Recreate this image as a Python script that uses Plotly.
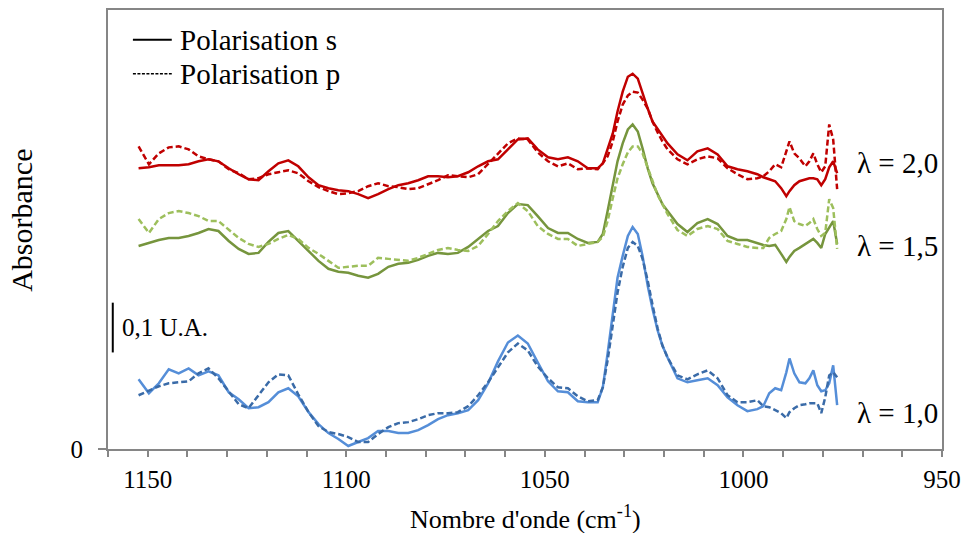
import plotly.graph_objects as go

wavenumber = [1152.3, 1149.7, 1147.2, 1144.7, 1142.2, 1139.7, 1137.2, 1134.7, 1132.2, 1129.6,
              1127.1, 1124.6, 1122.1, 1119.6, 1117.1, 1114.6, 1112.1, 1109.5, 1107.0, 1104.5,
              1102.0, 1099.5, 1097.0, 1094.5, 1092.0, 1089.4, 1086.9, 1084.4, 1081.9, 1079.4,
              1076.9, 1074.4, 1071.9, 1069.3, 1066.8, 1064.3, 1061.8, 1059.3, 1056.8, 1054.3,
              1051.8, 1049.2, 1046.7, 1044.2, 1041.7, 1039.2, 1036.7, 1035.4, 1034.2, 1032.9,
              1031.7, 1030.4, 1029.1, 1027.9, 1026.6, 1025.4, 1024.1, 1022.9, 1021.6, 1020.4,
              1019.1, 1016.6, 1014.1, 1011.6, 1009.0, 1006.5, 1004.0, 1001.5, 999.0, 996.5,
              995.0, 993.5, 992.0, 990.5, 989.2, 988.4, 987.2, 985.9, 984.4, 983.4,
              982.4, 981.4, 980.4, 979.4, 978.4, 977.4, 976.4]

l20_s = [0.564, 0.566, 0.570, 0.570, 0.570, 0.572, 0.578, 0.582, 0.578, 0.564,
         0.552, 0.542, 0.540, 0.558, 0.574, 0.580, 0.568, 0.546, 0.530, 0.524,
         0.520, 0.518, 0.512, 0.504, 0.512, 0.522, 0.530, 0.534, 0.540, 0.548,
         0.548, 0.546, 0.548, 0.556, 0.568, 0.578, 0.582, 0.602, 0.622, 0.624,
         0.602, 0.586, 0.582, 0.586, 0.578, 0.564, 0.564, 0.574, 0.602, 0.634,
         0.678, 0.718, 0.748, 0.754, 0.744, 0.714, 0.684, 0.658, 0.642, 0.628,
         0.614, 0.592, 0.580, 0.598, 0.604, 0.592, 0.568, 0.562, 0.558, 0.552,
         0.546, 0.542, 0.538, 0.524, 0.508, 0.518, 0.530, 0.538, 0.542, 0.544,
         0.544, 0.542, 0.530, 0.542, 0.566, 0.578, 0.554]

l20_p = [0.608, 0.572, 0.594, 0.606, 0.608, 0.602, 0.588, 0.582, 0.578, 0.562,
         0.554, 0.542, 0.544, 0.552, 0.556, 0.560, 0.554, 0.538, 0.526, 0.518,
         0.512, 0.514, 0.518, 0.528, 0.534, 0.528, 0.526, 0.522, 0.524, 0.532,
         0.540, 0.550, 0.548, 0.546, 0.552, 0.572, 0.592, 0.614, 0.624, 0.622,
         0.596, 0.578, 0.568, 0.574, 0.562, 0.564, 0.562, 0.574, 0.588, 0.618,
         0.658, 0.692, 0.710, 0.718, 0.716, 0.702, 0.684, 0.658, 0.636, 0.618,
         0.602, 0.582, 0.572, 0.582, 0.588, 0.584, 0.564, 0.552, 0.542, 0.544,
         0.548, 0.558, 0.572, 0.566, 0.598, 0.618, 0.594, 0.584, 0.568, 0.578,
         0.594, 0.572, 0.556, 0.568, 0.652, 0.622, 0.522]

l15_s = [0.408, 0.414, 0.420, 0.424, 0.424, 0.428, 0.434, 0.442, 0.438, 0.418,
         0.402, 0.392, 0.394, 0.416, 0.434, 0.438, 0.418, 0.396, 0.378, 0.362,
         0.356, 0.354, 0.348, 0.344, 0.352, 0.366, 0.372, 0.374, 0.380, 0.388,
         0.394, 0.392, 0.394, 0.406, 0.422, 0.438, 0.448, 0.474, 0.492, 0.490,
         0.468, 0.444, 0.434, 0.434, 0.422, 0.414, 0.416, 0.432, 0.478, 0.532,
         0.578, 0.614, 0.642, 0.652, 0.638, 0.604, 0.564, 0.534, 0.512, 0.492,
         0.478, 0.452, 0.436, 0.454, 0.462, 0.452, 0.428, 0.420, 0.420, 0.414,
         0.410, 0.408, 0.410, 0.392, 0.376, 0.386, 0.398, 0.404, 0.412, 0.416,
         0.422, 0.414, 0.404, 0.432, 0.446, 0.458, 0.412]

l15_p = [0.462, 0.434, 0.462, 0.474, 0.478, 0.474, 0.468, 0.458, 0.458, 0.440,
         0.424, 0.412, 0.406, 0.412, 0.422, 0.430, 0.422, 0.404, 0.392, 0.378,
         0.364, 0.366, 0.368, 0.368, 0.384, 0.382, 0.380, 0.378, 0.384, 0.392,
         0.400, 0.404, 0.400, 0.398, 0.408, 0.432, 0.458, 0.478, 0.494, 0.478,
         0.448, 0.432, 0.422, 0.422, 0.408, 0.412, 0.416, 0.426, 0.458, 0.504,
         0.544, 0.572, 0.596, 0.608, 0.608, 0.594, 0.566, 0.536, 0.510, 0.492,
         0.472, 0.440, 0.428, 0.442, 0.448, 0.442, 0.418, 0.412, 0.406, 0.404,
         0.404, 0.424, 0.432, 0.438, 0.462, 0.486, 0.458, 0.452, 0.448, 0.454,
         0.462, 0.442, 0.428, 0.434, 0.502, 0.484, 0.402]

l10_s = [0.140, 0.112, 0.132, 0.160, 0.152, 0.162, 0.148, 0.156, 0.148, 0.114,
         0.100, 0.082, 0.084, 0.094, 0.114, 0.122, 0.106, 0.074, 0.050, 0.032,
         0.020, 0.006, 0.014, 0.022, 0.036, 0.036, 0.032, 0.032, 0.038, 0.048,
         0.060, 0.068, 0.072, 0.078, 0.098, 0.132, 0.176, 0.214, 0.228, 0.212,
         0.174, 0.136, 0.116, 0.114, 0.096, 0.094, 0.094, 0.124, 0.192, 0.272,
         0.344, 0.388, 0.428, 0.446, 0.432, 0.388, 0.328, 0.282, 0.238, 0.208,
         0.184, 0.142, 0.134, 0.138, 0.142, 0.128, 0.104, 0.088, 0.076, 0.080,
         0.086, 0.112, 0.122, 0.118, 0.154, 0.182, 0.152, 0.134, 0.132, 0.142,
         0.158, 0.128, 0.116, 0.118, 0.132, 0.168, 0.088]

l10_p = [0.108, 0.118, 0.126, 0.132, 0.134, 0.136, 0.152, 0.162, 0.142, 0.116,
         0.090, 0.082, 0.108, 0.134, 0.150, 0.148, 0.110, 0.074, 0.046, 0.034,
         0.030, 0.024, 0.014, 0.014, 0.030, 0.044, 0.052, 0.054, 0.060, 0.068,
         0.072, 0.072, 0.074, 0.086, 0.108, 0.134, 0.164, 0.194, 0.212, 0.198,
         0.166, 0.142, 0.124, 0.122, 0.106, 0.096, 0.098, 0.124, 0.178, 0.248,
         0.314, 0.366, 0.404, 0.416, 0.408, 0.382, 0.338, 0.290, 0.242, 0.208,
         0.184, 0.148, 0.140, 0.150, 0.158, 0.142, 0.108, 0.094, 0.094, 0.098,
         0.086, 0.084, 0.078, 0.072, 0.062, 0.074, 0.082, 0.088, 0.090, 0.092,
         0.092, 0.092, 0.072, 0.104, 0.148, 0.154, 0.144]

FONT = "Liberation Serif"
DASH = "6px,3px"

series = [
    (l20_s, "#C00000", "solid"),
    (l20_p, "#C00000", DASH),
    (l15_s, "#76953D", "solid"),
    (l15_p, "#9DBF5C", DASH),
    (l10_s, "#558ED8", "solid"),
    (l10_p, "#3A6BA8", DASH),
]

fig = go.Figure()
for vals, col, dash in series:
    fig.add_trace(go.Scatter(x=wavenumber, y=vals, mode="lines",
                             line=dict(color=col, width=2.5, dash=dash),
                             showlegend=False, hoverinfo="skip"))

# legend (drawn as line samples + text, in paper coordinates)
legend_items = [("Polarisation s", "solid", 1.0 - 30 / 441), ("Polarisation p", "3px,1.5px", 1.0 - 64 / 441)]
for txt, dash, yp in legend_items:
    fig.add_shape(type="line", xref="paper", yref="paper",
                  x0=25 / 837, x1=64 / 837, y0=yp, y1=yp,
                  line=dict(color="black", width=2 if dash == "solid" else 1.5, dash=dash))
    fig.add_annotation(x=70 / 837, y=yp, xref="paper", yref="paper", text=txt, showarrow=False,
                       xanchor="left", yanchor="middle",
                       font=dict(family=FONT, size=29, color="black"))

labels = [("λ = 2,0", 0.574), ("λ = 1,5", 0.408), ("λ = 1,0", 0.072)]
for txt, yv in labels:
    fig.add_annotation(x=972, y=yv, xref="x", yref="y", text=txt, showarrow=False,
                       xanchor="left", yanchor="middle",
                       font=dict(family=FONT, size=29, color="black"))

# scale bar
fig.add_shape(type="line", x0=1158.8, x1=1158.8, y0=0.194, y1=0.294, xref="x", yref="y",
              line=dict(color="black", width=2))
fig.add_annotation(x=1157, y=0.244, xref="x", yref="y", text="0,1 U.A.", showarrow=False,
                   xanchor="left", yanchor="middle",
                   font=dict(family=FONT, size=25, color="black"))

fig.add_annotation(x=-0.103, y=0.52, xref="paper", yref="paper", text="Absorbance",
                   textangle=-90, showarrow=False, xanchor="center", yanchor="middle",
                   font=dict(family=FONT, size=30, color="black"))
fig.add_annotation(x=0.5, y=-0.156, xref="paper", yref="paper",
                   text="Nombre d'onde (cm<sup>-1</sup>)", showarrow=False,
                   xanchor="center", yanchor="middle",
                   font=dict(family=FONT, size=26, color="black"))

fig.update_layout(
    width=969, height=533,
    margin=dict(l=108, r=24, t=8, b=84),
    paper_bgcolor="white", plot_bgcolor="white",
    font=dict(family=FONT, color="black"),
    showlegend=False,
    xaxis=dict(range=[1160, 950], tickmode="array", tickvals=[1150, 1100, 1050, 1000, 950],
               ticks="outside", ticklen=6, tickcolor="#868686", tickwidth=1.5,
               minor=dict(dtick=10, ticks="outside", ticklen=6, tickcolor="#868686", tickwidth=1.5),
               showline=True, linecolor="#868686", linewidth=2, mirror=True,
               showgrid=False, zeroline=False, ticklabelstandoff=1,
               tickfont=dict(family=FONT, size=25, color="black")),
    yaxis=dict(range=[0, 0.882], tickmode="array", tickvals=[0], ticktext=["0"],
               ticks="outside", ticklen=8, tickcolor="#868686", tickwidth=1.5,
               showline=True, linecolor="#868686", linewidth=2, mirror=True,
               showgrid=False, zeroline=False, ticklabelstandoff=10,
               tickfont=dict(family=FONT, size=25, color="black")),
)

fig.write_html("out.html")
